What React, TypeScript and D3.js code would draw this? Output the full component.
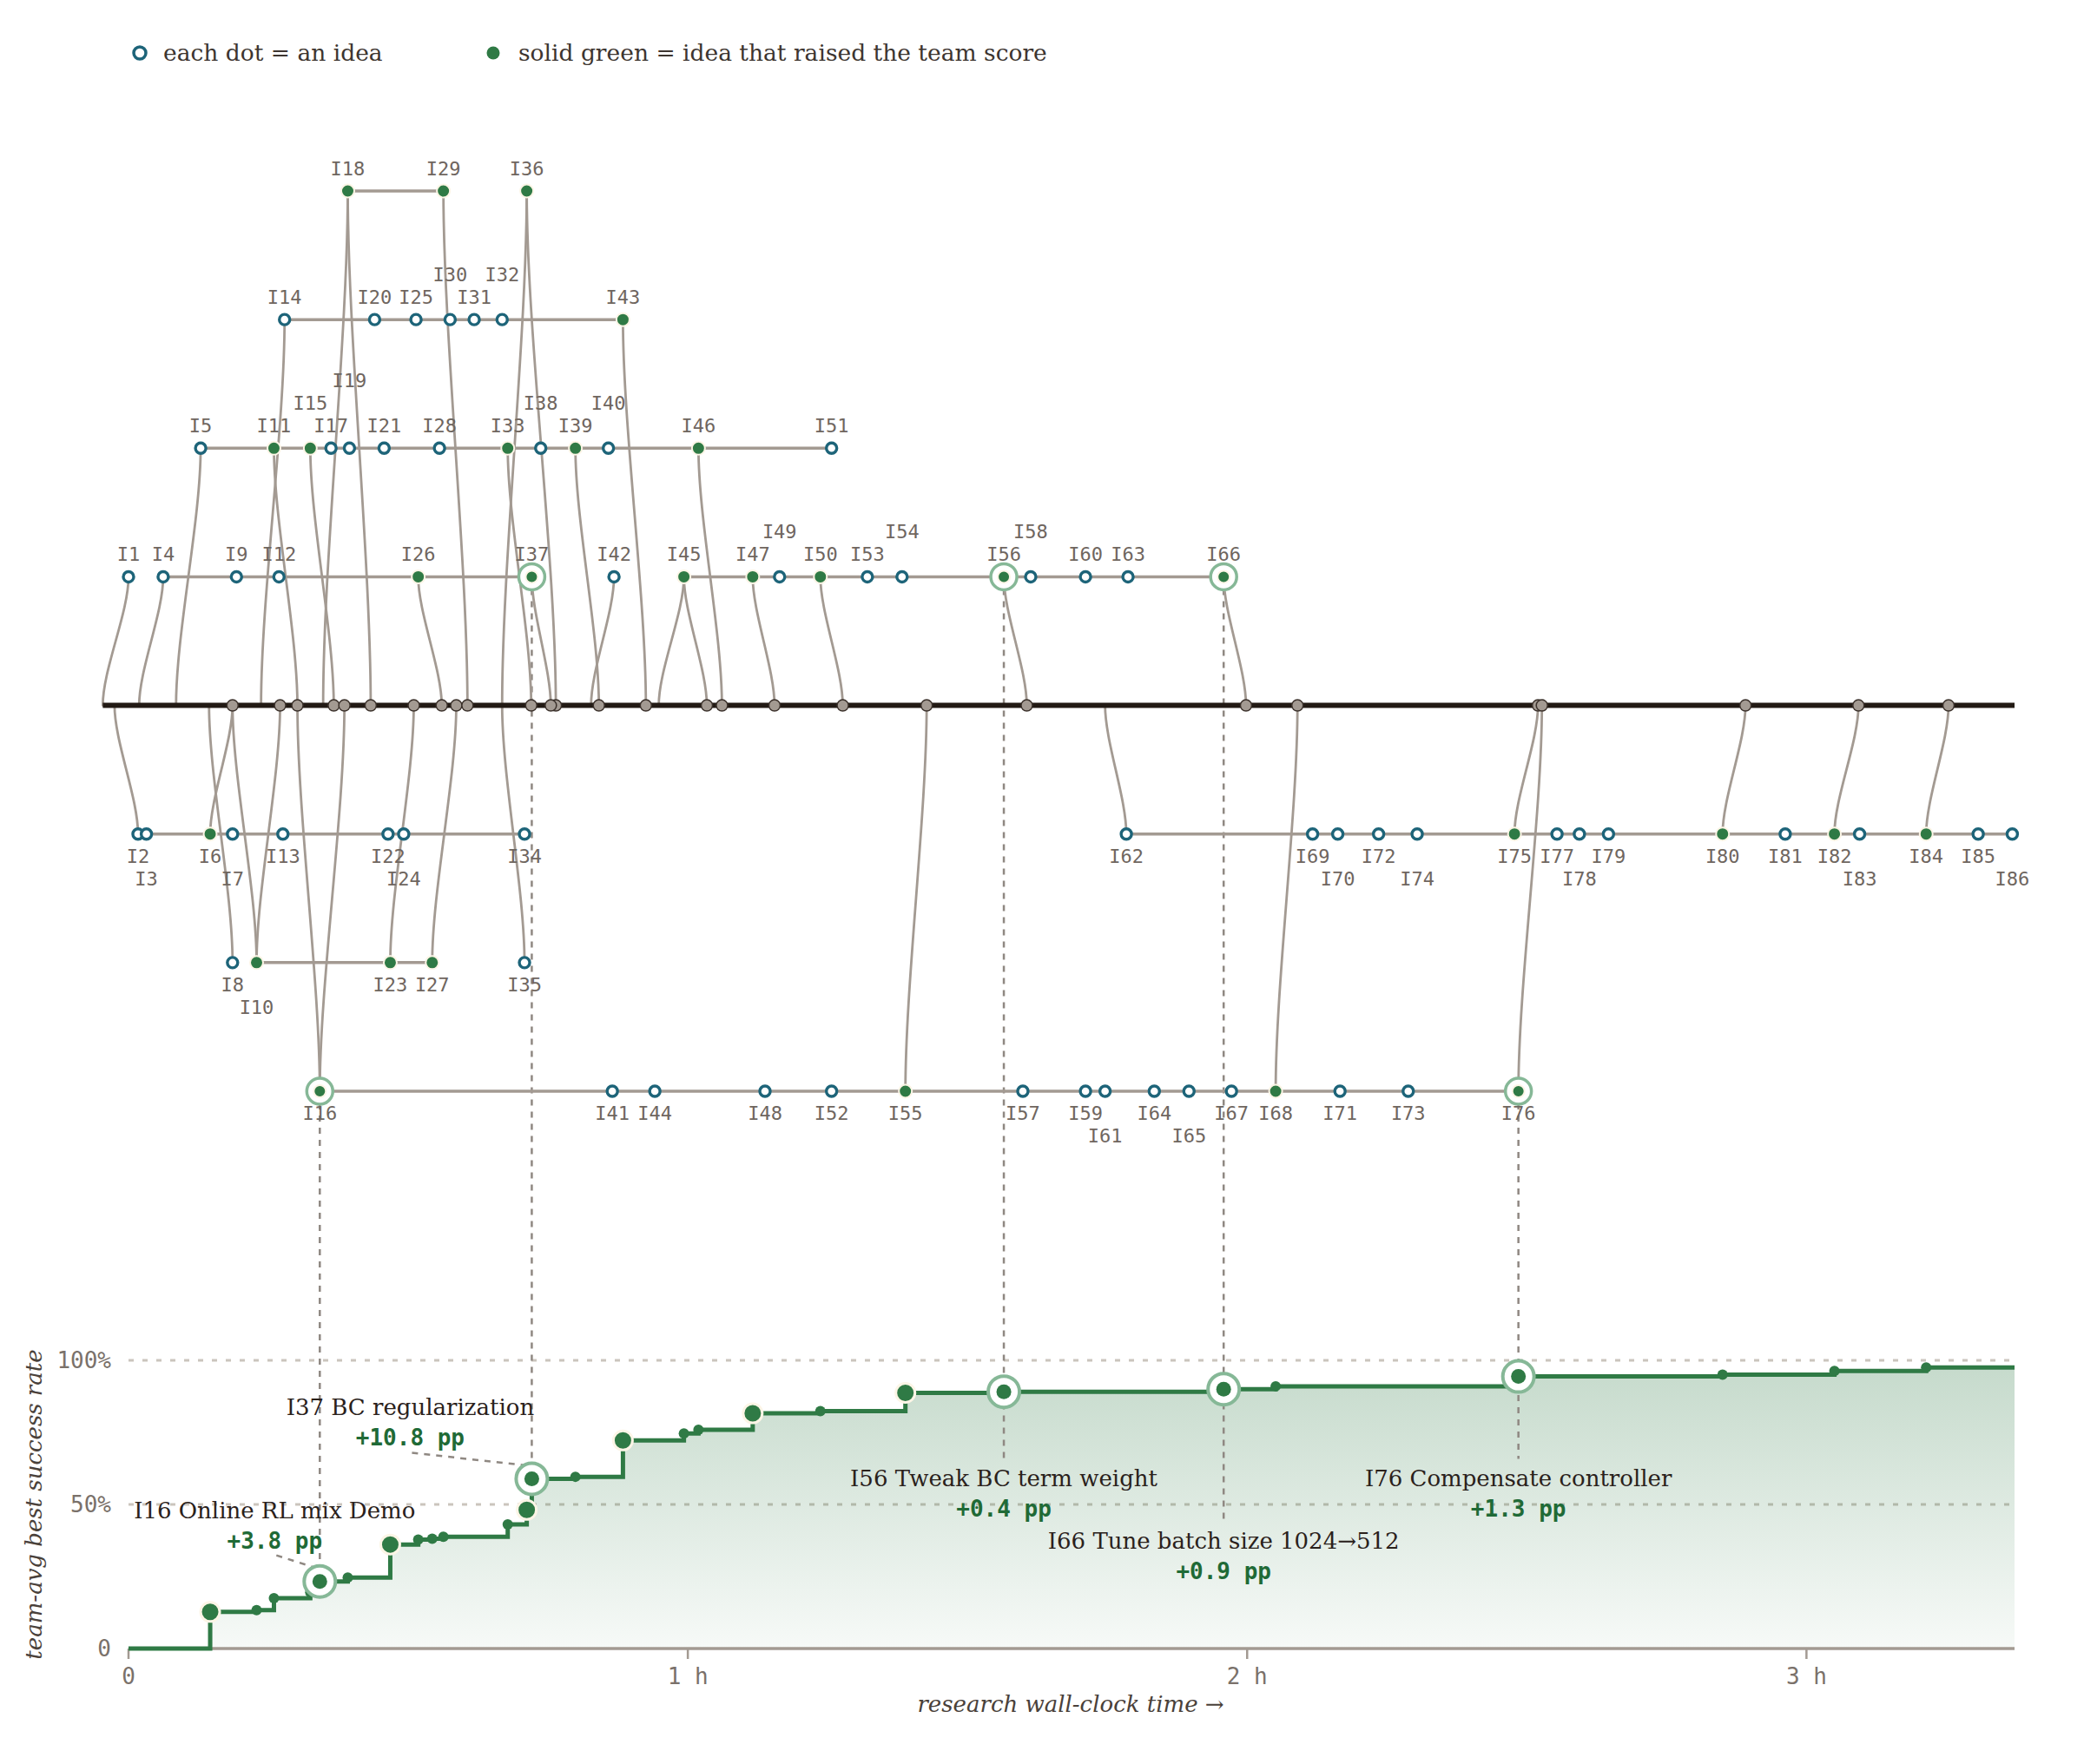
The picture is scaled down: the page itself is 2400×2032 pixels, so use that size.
import * as d3 from 'd3'

// finish time of each idea in hours, I1..I86
const ideaTimes = [
  0.000, 0.017, 0.032, 0.062, 0.129, 0.146, 0.186, 0.186, 0.193, 0.229,
  0.260, 0.269, 0.276, 0.279, 0.325, 0.342, 0.362, 0.392, 0.395, 0.440,
  0.457, 0.464, 0.468, 0.492, 0.514, 0.518, 0.543, 0.556, 0.563, 0.575,
  0.618, 0.668, 0.678, 0.708, 0.708, 0.712, 0.721, 0.737, 0.799, 0.858,
  0.865, 0.868, 0.884, 0.941, 0.993, 1.019, 1.116, 1.138, 1.164, 1.237,
  1.257, 1.257, 1.321, 1.383, 1.389, 1.565, 1.599, 1.613, 1.711, 1.711,
  1.746, 1.784, 1.787, 1.834, 1.896, 1.958, 1.972, 2.051, 2.117, 2.162,
  2.166, 2.235, 2.288, 2.304, 2.478, 2.485, 2.554, 2.594, 2.646, 2.850,
  2.962, 3.050, 3.095, 3.214, 3.307, 3.368,
]

// branches: lane, time it left the trunk, ideas chained on it
const segmentLanes = [1, 1, 1, 1, 2, 3, 4, 4, -1, -1, -2, -2, -2, -3]
const segmentBranchTimes = [-0.046, 0.019, 0.827, 0.948, 0.085, 0.237, 0.348, 0.668, -0.025, 1.746, 0.144, 0.186, 0.668, 0.302]
const segmentIdeas = [
  [1],
  [4, 9, 12, 26, 37],
  [42],
  [45, 47, 49, 50, 53, 54, 56, 58, 60, 63, 66],
  [5, 11, 15, 17, 19, 21, 28, 33, 38, 39, 40, 46, 51],
  [14, 20, 25, 30, 31, 32, 43],
  [18, 29],
  [36],
  [2, 3, 6, 7, 13, 22, 24, 34],
  [62, 69, 70, 72, 74, 75, 77, 78, 79, 80, 81, 82, 83, 84, 85, 86],
  [8],
  [10, 23, 27],
  [35],
  [16, 41, 44, 48, 52, 55, 57, 59, 61, 64, 65, 67, 68, 71, 73, 76],
]

// ideas that raised the team score, new score (%), and when merged to trunk
const raisedIds = [6, 10, 11, 15, 16, 18, 23, 26, 27, 29, 33, 36, 37, 39, 43, 45, 46, 47, 50, 55, 56, 66, 68, 75, 76, 80, 82, 84]
const raisedScores = [12.7, 13.3, 17.5, 19.5, 23.3, 24.6, 36.1, 37.8, 38.1, 38.8, 43.1, 48.1, 58.9, 59.6, 72.2, 74.6, 75.9, 81.6, 82.4, 88.7, 89.1, 90.0, 91.0, 93.1, 94.4, 95.0, 96.3, 97.5]
const mergeTimes = [0.186, 0.271, 0.302, 0.367, 0.386, 0.433, 0.510, 0.560, 0.586, 0.606, 0.720, 0.764, 0.755, 0.841, 0.925, 1.034, 1.061, 1.155, 1.277, 1.427, 1.606, 1.998, 2.090, 2.520, 2.527, 2.891, 3.093, 3.254]

const annotatedIds = [16, 37, 56, 66, 76]
const annotationTitles = ['Online RL mix Demo', 'BC regularization', 'Tweak BC term weight', 'Tune batch size 1024→512', 'Compensate controller']

const END_T = 3.372
const hourTicks = [0, 1, 2, 3]
const hourLabels = ['0', '1 h', '2 h', '3 h']
const scoreTicks = [0, 50, 100]
const scoreLabels = ['0', '50%', '100%']

const BLUE = '#1d6479'
const GREEN = '#2f7a45'
const GRAY = '#a39a92'
const HALO = '#fcf5e6'
const RING = '#86b897'
const MONO = 'DejaVu Sans Mono, monospace'
const SERIF = 'DejaVu Serif, serif'

// where the annotation text sits relative to its point
const annotationOffsets = [[-52, -82], [-140, -82], [0, 100], [0, 175], [0, 117]]

// vertical connector with tight bends at both ends
function connector(x0: number, y0: number, x1: number, y1: number) {
  const k = 0.28
  const p = d3.path()
  p.moveTo(x0, y0)
  p.bezierCurveTo(x0, y0 + (y1 - y0) * k, x1, y1 - (y1 - y0) * k, x1, y1)
  return p.toString()
}

export default function App() {
  const x = d3.scaleLinear().domain([0, END_T]).range([148, 2320])
  const laneY = d3.scaleLinear().domain([-3, 4]).range([1257, 220])
  const scoreY = d3.scaleLinear().domain([0, 100]).range([1899, 1567])
  const baseY = laneY(0)

  const tOf = (id: number) => ideaTimes[id - 1]
  const laneOf = new Map<number, number>()
  segmentIdeas.forEach((ids, s) => ids.forEach(id => laneOf.set(id, segmentLanes[s])))
  const raised = new Set(raisedIds)
  const scoreOf = new Map(raisedIds.map((id, i) => [id, raisedScores[i]]))
  const gainOf = new Map(raisedIds.map((id, i) => [id, raisedScores[i] - (i > 0 ? raisedScores[i - 1] : 0)]))
  const annotated = new Set(annotatedIds)

  const branchPaths = segmentIdeas.map((ids, s) =>
    connector(x(segmentBranchTimes[s]), baseY, x(tOf(ids[0])), laneY(segmentLanes[s])))
  const mergePaths = raisedIds.map((id, i) =>
    connector(x(tOf(id)), laneY(laneOf.get(id)!), x(mergeTimes[i]), baseY))

  // stack labels that would collide on the same lane
  const labelSize = 22
  const charW = labelSize * 0.6
  const placed = new Map<number, { x: number; w: number; level: number }[]>()
  const levelOf = new Map<number, number>()
  const order = ideaTimes.map((t, i) => i + 1).sort((a, b) => tOf(a) - tOf(b) || a - b)
  order.forEach(id => {
    const lane = laneOf.get(id)!
    const px = x(tOf(id))
    const w = `I${id}`.length * charW
    const list = placed.get(lane) ?? []
    let level = 0
    while (list.some(p => p.level === level && Math.abs(p.x - px) < (p.w + w) / 2 + 7)) level++
    list.push({ x: px, w, level })
    placed.set(lane, list)
    levelOf.set(id, level)
  })

  const stepPts: [number, number][] = [[0, 0], ...raisedIds.map((id, i) => [tOf(id), raisedScores[i]] as [number, number]), [END_T, raisedScores[raisedScores.length - 1]]]
  const stepLine = d3.line<[number, number]>().x(d => x(d[0])).y(d => scoreY(d[1])).curve(d3.curveStepAfter)
  const stepArea = d3.area<[number, number]>().x(d => x(d[0])).y0(scoreY(0)).y1(d => scoreY(d[1])).curve(d3.curveStepAfter)

  return (
    <svg width={2400} height={2032} style={{ position: 'absolute', left: 0, top: 0, background: '#fff' }}>
      <defs>
        <linearGradient id="scoreFill" gradientUnits="userSpaceOnUse" x1={0} y1={scoreY(100)} x2={0} y2={scoreY(0)}>
          <stop offset="0" stopColor={GREEN} stopOpacity={0.28} />
          <stop offset="1" stopColor={GREEN} stopOpacity={0.04} />
        </linearGradient>
      </defs>

      {/* legend */}
      <circle cx={161} cy={61} r={7} fill="#fff" stroke={BLUE} strokeWidth={3.5} />
      <text x={188} y={70} fontFamily={SERIF} fontSize={26.5} fill="#3d3530">each dot = an idea</text>
      <circle cx={568} cy={61} r={7.5} fill={GREEN} />
      <text x={597} y={70} fontFamily={SERIF} fontSize={26.5} fill="#3d3530">solid green = idea that raised the team score</text>

      {/* score panel background */}
      {scoreTicks.filter(v => v > 0).map(v => (
        <line key={v} x1={x(0)} x2={x(END_T)} y1={scoreY(v)} y2={scoreY(v)} stroke="#cbc5bd" strokeWidth={3} strokeDasharray="6 10" />
      ))}
      <path d={stepArea(stepPts)!} fill="url(#scoreFill)" />

      {/* drop lines for annotated ideas */}
      {annotatedIds.map((id, i) => {
        const [, dy] = annotationOffsets[i]
        const py = scoreY(scoreOf.get(id)!)
        const y2 = dy < 0 ? py - 18 : py + dy - 22
        return <line key={id} x1={x(tOf(id))} x2={x(tOf(id))} y1={laneY(laneOf.get(id)!)} y2={y2} stroke="#8f8882" strokeWidth={2.5} strokeDasharray="7 7" />
      })}

      {/* lanes */}
      {segmentIdeas.map((ids, s) => ids.length > 1 && (
        <line key={s} x1={x(tOf(ids[0]))} x2={x(tOf(ids[ids.length - 1]))} y1={laneY(segmentLanes[s])} y2={laneY(segmentLanes[s])} stroke={GRAY} strokeWidth={3.5} />
      ))}
      {branchPaths.map((d, i) => <path key={'b' + i} d={d} fill="none" stroke={GRAY} strokeWidth={2.8} strokeLinecap="round" />)}
      {mergePaths.map((d, i) => <path key={'m' + i} d={d} fill="none" stroke={GRAY} strokeWidth={2.8} strokeLinecap="round" />)}

      <line x1={x(d3.min(segmentBranchTimes)!)} x2={x(END_T)} y1={baseY} y2={baseY} stroke="#221a14" strokeWidth={6} />
      {mergeTimes.map((t, i) => (
        <circle key={i} cx={x(t)} cy={baseY} r={6.5} fill={GRAY} stroke="#3a302a" strokeWidth={1.5} />
      ))}

      {order.map(id => {
        const cx = x(tOf(id))
        const cy = laneY(laneOf.get(id)!)
        if (!raised.has(id)) return <circle key={id} cx={cx} cy={cy} r={6} fill="#fff" stroke={BLUE} strokeWidth={3.4} />
        return (
          <g key={id}>
            {annotated.has(id) && <circle cx={cx} cy={cy} r={15} fill="#fff" stroke={RING} strokeWidth={3.5} />}
            <circle cx={cx} cy={cy} r={annotated.has(id) ? 7 : 7.5} fill={GREEN} stroke={HALO} strokeWidth={2} />
          </g>
        )
      })}

      {order.map(id => {
        const lane = laneOf.get(id)!
        const lvl = levelOf.get(id)!
        const y = lane > 0 ? laneY(lane) - 18 - lvl * 26 : laneY(lane) + 33 + lvl * 26
        return <text key={id} x={x(tOf(id))} y={y} textAnchor="middle" fontFamily={MONO} fontSize={labelSize} fill="#6f665f">{`I${id}`}</text>
      })}

      {/* score axis */}
      <line x1={x(0)} x2={x(END_T)} y1={scoreY(0)} y2={scoreY(0)} stroke={GRAY} strokeWidth={3.5} />
      {hourTicks.map((h, i) => (
        <g key={h}>
          <line x1={x(h)} x2={x(h)} y1={scoreY(0)} y2={scoreY(0) + 12} stroke={GRAY} strokeWidth={2.5} />
          <text x={x(h)} y={1940} textAnchor="middle" fontFamily={MONO} fontSize={26} fill="#7a716a">{hourLabels[i]}</text>
        </g>
      ))}
      {scoreTicks.map((v, i) => (
        <text key={v} x={128} y={scoreY(v) + 9} textAnchor="end" fontFamily={MONO} fontSize={26} fill="#7a716a">{scoreLabels[i]}</text>
      ))}
      <text transform={`translate(48,${scoreY(50)}) rotate(-90)`} textAnchor="middle" fontFamily={SERIF} fontStyle="italic" fontSize={26} fill="#4a413a">team-avg best success rate</text>
      <text x={1233} y={1972} textAnchor="middle" fontFamily={SERIF} fontStyle="italic" fontSize={26} fill="#4a413a">research wall-clock time →</text>

      <path d={stepLine(stepPts)!} fill="none" stroke={GREEN} strokeWidth={5} />
      {raisedIds.filter(id => !annotated.has(id)).map(id => {
        const big = gainOf.get(id)! >= 5
        return <circle key={id} cx={x(tOf(id))} cy={scoreY(scoreOf.get(id)!)} r={big ? 11 : 6} fill={GREEN} stroke={big ? HALO : 'none'} strokeWidth={3} />
      })}

      {annotatedIds.map((id, i) => {
        const px = x(tOf(id))
        const py = scoreY(scoreOf.get(id)!)
        const [dx, dy] = annotationOffsets[i]
        const lx = px + dx
        const ly = py + dy
        return (
          <g key={id}>
            {dy < 0 && <line x1={lx + 2} y1={ly + 52} x2={px - 3} y2={py - 15} stroke="#8f8882" strokeWidth={2.5} strokeDasharray="7 7" />}
            <circle cx={px} cy={py} r={18} fill="#fff" stroke={RING} strokeWidth={4} />
            <circle cx={px} cy={py} r={8.5} fill={GREEN} />
            <text x={lx} y={ly + 9} textAnchor="middle" fontFamily={SERIF} fontSize={26} fill="#2a211b">{`I${id} ${annotationTitles[i]}`}</text>
            <text x={lx} y={ly + 44} textAnchor="middle" fontFamily={MONO} fontWeight="bold" fontSize={26} fill="#1f6a36">{`+${gainOf.get(id)!.toFixed(1)} pp`}</text>
          </g>
        )
      })}
    </svg>
  )
}
